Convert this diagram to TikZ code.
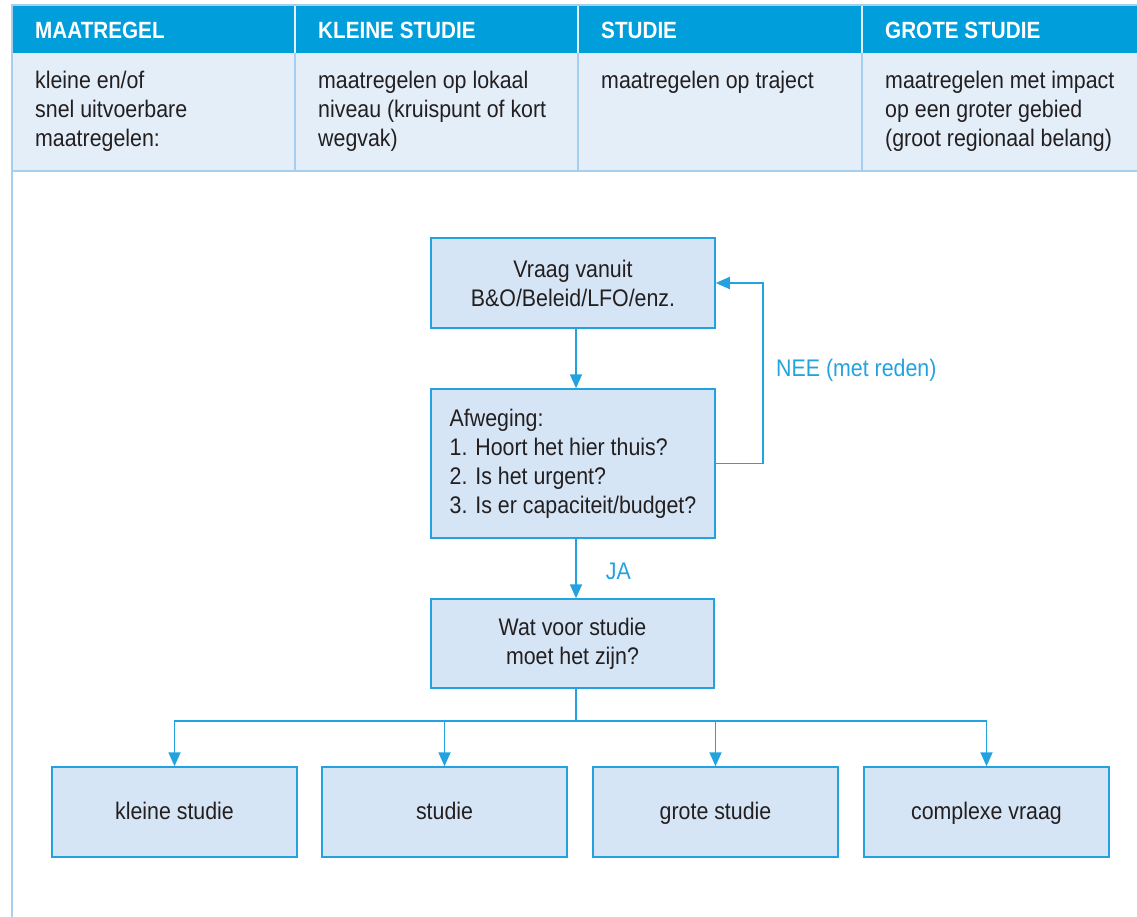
\documentclass[tikz,border=0pt]{standalone}
\usepackage{fontspec}
\setmainfont{Liberation Sans}[FakeStretch=0.89]
\newfontface\hdface{Liberation Sans Bold}[FakeStretch=0.88]
\usetikzlibrary{arrows.meta}
\definecolor{hdblue}{HTML}{009EDB}
\definecolor{rowblue}{HTML}{E3EEF9}
\definecolor{lineblue}{HTML}{A6CFEF}
\definecolor{boxfill}{HTML}{D5E5F5}
\definecolor{boxline}{HTML}{22A3E0}
\definecolor{txt}{HTML}{231F20}
\newcommand\bodyfnt{\fontsize{24}{29}\selectfont}
\newcommand\hdfnt{\hdface\fontsize{23.5}{28}\selectfont}
\begin{document}
\begin{tikzpicture}[x=1pt,y=-1pt,
  flowbox/.style={draw=boxline, fill=boxfill, line width=1.5pt, text=txt,
    font=\bodyfnt, align=center, inner sep=0pt},
  onebox/.style={flowbox, minimum width=245pt, minimum height=90pt, text height=18pt, text depth=3pt},
  hdtext/.style={anchor=base west, text=white, font=\hdfnt, inner sep=0pt},
  celltext/.style={anchor=north west, text=txt, font=\bodyfnt, align=left, inner sep=0pt},
  conn/.style={draw=boxline, line width=1.8pt},
  arr/.style={conn, -{Triangle[length=14pt,width=12pt]}},
  lbl/.style={text=boxline, font=\bodyfnt, inner sep=0pt}]
\useasboundingbox (0,0) rectangle (1137,917);
% table header
\fill[hdblue] (12,5) rectangle (1137,53);
\fill[rowblue] (12,53) rectangle (1137,171);
\draw[lineblue, line width=2pt] (12,5) -- (1137,5);
\draw[lineblue, line width=1.5pt] (12,171) -- (1137,171);
\foreach \x in {295,578,862}{
  \draw[white!70!lineblue, line width=1.2pt] (\x,6) -- (\x,53);
  \draw[lineblue, line width=1.2pt] (\x,53) -- (\x,171);
}
\draw[lineblue, line width=2.5pt] (12,4) -- (12,917);
\node[hdtext] (h1) at (35,39) {MAATREGEL};
\node[hdtext] (h2) at (318,39) {KLEINE STUDIE};
\node[hdtext] (h3) at (601,39) {STUDIE};
\node[hdtext] (h4) at (885,39) {GROTE STUDIE};
\node[celltext] (c1) at (35,71) {kleine en/of\\snel uitvoerbare\\maatregelen:};
\node[celltext] (c2) at (318,71) {maatregelen op lokaal\\niveau (kruispunt of kort\\wegvak)};
\node[celltext] (c3) at (601,71) {maatregelen op traject};
\node[celltext] (c4) at (885,71) {maatregelen met impact\\op een groter gebied\\(groot regionaal belang)};
% flowchart
\node[flowbox, minimum width=284pt, minimum height=90pt] (q) at (573,283) {Vraag vanuit\\B\&O/Beleid/LFO/enz.};
\node[flowbox, minimum width=284pt, minimum height=149pt, align=left] (a) at (573,463.5) {Afweging:\\1. Hoort het hier thuis?\\2. Is het urgent?\\3. Is er capaciteit/budget?};
\node[flowbox, minimum width=283pt, minimum height=89pt] (w) at (572.5,643.5) {Wat voor studie\\moet het zijn?};
\node[onebox] (b1) at (174.5,812) {kleine studie};
\node[onebox] (b2) at (444.5,812) {studie};
\node[onebox] (b3) at (715.5,812) {grote studie};
\node[onebox] (b4) at (986.5,812) {complexe vraag};
\coordinate (vx) at (576,0);
\coordinate (split) at (576,721);
\draw[arr] (q.south -| vx) -- (a.north -| vx);
\draw[arr] (a.south -| vx) -- (w.north -| vx) node[lbl, pos=0.55, anchor=west, xshift=29pt] (ja) {JA};
\draw[arr] (a.east) -- ++(47,0) coordinate (nee) |- (q.east);
\node[lbl, anchor=west] (neel) at (776,370) {NEE (met reden)};
\draw[conn] (w.south -| vx) -- (split);
\draw[arr] (split) -| (b1.north);
\draw[arr] (split) -| (b2.north);
\draw[arr] (split) -| (b3.north);
\draw[arr] (split) -| (b4.north);
\end{tikzpicture}
\end{document}
